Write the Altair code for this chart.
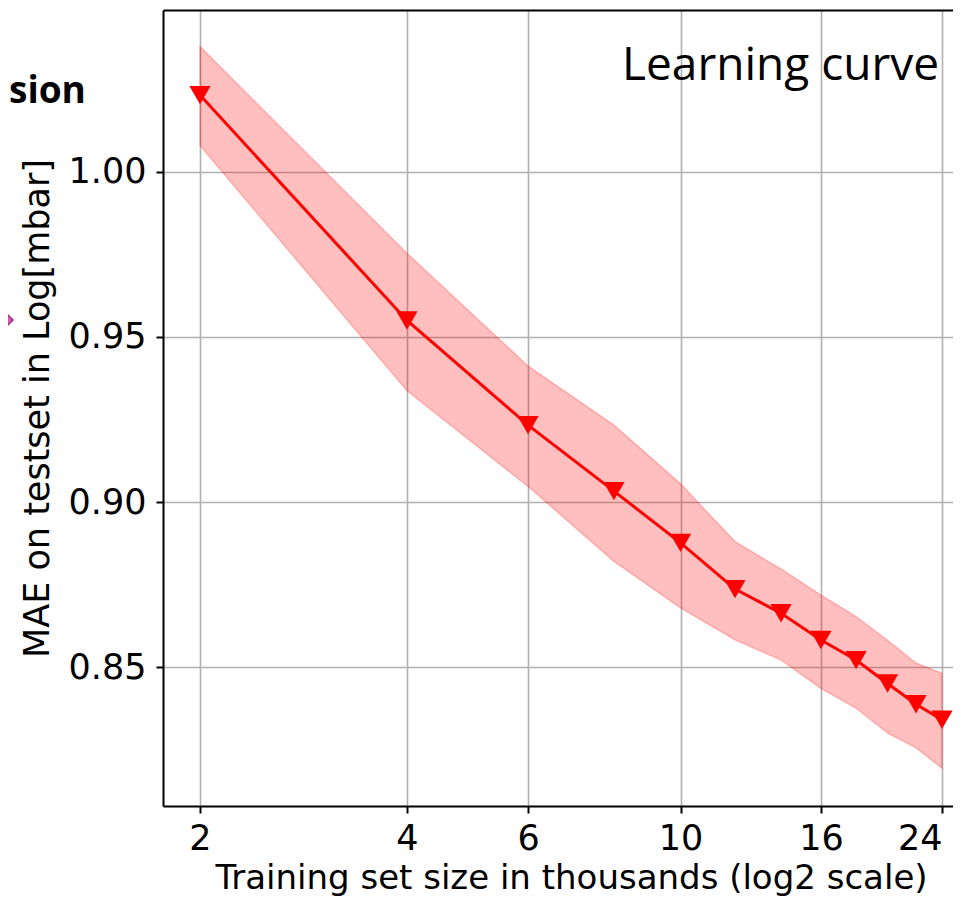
import altair as alt
import pandas as pd

sizes = [2, 4, 6, 8, 10, 12, 14, 16, 18, 20, 22, 24]
mae = [1.0233, 0.9550, 0.9233, 0.9033, 0.8876, 0.8736, 0.8663, 0.8582, 0.8521, 0.8450, 0.8387, 0.8340]
upper = [1.0380, 0.9754, 0.9412, 0.9233, 0.9055, 0.8880, 0.8797, 0.8718, 0.8653, 0.8581, 0.8512, 0.8481]
lower = [1.0080, 0.9337, 0.9047, 0.8820, 0.8679, 0.8582, 0.8521, 0.8435, 0.8375, 0.8300, 0.8255, 0.8193]

x_ticks = [2, 4, 6, 10, 16, 24]
y_ticks = [0.85, 0.90, 0.95, 1.00]
x_domain = [1.767, 24.90]
y_domain = [0.80788, 1.04909]

df = pd.DataFrame({"size": sizes, "mae": mae, "upper": upper, "lower": lower})

AX_FONT = "DejaVu Sans"
W, H = 790, 796

xscale = alt.Scale(type="log", base=2, domain=x_domain, nice=False)
yscale = alt.Scale(domain=y_domain, nice=False, zero=False)

x_axis = alt.Axis(
    values=x_ticks, format="d", title="Training set size in thousands (log2 scale)",
    grid=True, gridColor="#b0b0b0", gridWidth=1.6,
    domainColor="black", domainWidth=2, tickColor="black", tickWidth=2, tickSize=7,
    labelFont=AX_FONT, labelFontSize=35, labelColor="black", labelPadding=8,
    labelFlush=14, labelOverlap=False,
    titleFont=AX_FONT, titleFontSize=34, titleFontWeight="normal", titleColor="black",
    titleX=408, titleY=82, titleBaseline="alphabetic", titleAnchor="middle",
)
y_axis = alt.Axis(
    orient="left",
    values=y_ticks, format=".2f", title="MAE on testset in Log[mbar]",
    grid=True, gridColor="#b0b0b0", gridWidth=1.6,
    domainColor="black", domainWidth=2, tickColor="black", tickWidth=2, tickSize=7,
    labelFont=AX_FONT, labelFontSize=35, labelColor="black", labelPadding=10,
    labelFlush=False, labelOverlap=False,
    titleFont=AX_FONT, titleFontSize=35, titleFontWeight="normal", titleColor="black",
    titleX=-115, titleY=398, titleBaseline="alphabetic", titleAngle=270, titleAnchor="middle",
)
top_axis = alt.Axis(
    orient="top", values=x_ticks, labels=False, ticks=False, grid=False, title=None,
    domainColor="black", domainWidth=2,
)

base = alt.Chart(df)

band = base.mark_area(
    color="#ff0000", fillOpacity=0.25, stroke="#ff0000", strokeOpacity=0.22, strokeWidth=1.5
).encode(
    x=alt.X("size:Q", scale=xscale, axis=x_axis),
    y=alt.Y("upper:Q", scale=yscale, axis=y_axis),
    y2="lower:Q",
)

line = base.mark_line(color="#ff0000", strokeWidth=3).encode(
    x=alt.X("size:Q", scale=xscale, axis=None),
    y=alt.Y("mae:Q", scale=yscale, axis=y_axis),
)

pts = base.mark_point(
    shape="triangle-down", filled=True, color="#ff0000", opacity=1, size=450
).encode(
    x=alt.X("size:Q", scale=xscale, axis=None),
    y=alt.Y("mae:Q", scale=yscale, axis=y_axis),
)

topframe = base.mark_point(opacity=0).encode(
    x=alt.X("size:Q", scale=xscale, axis=top_axis),
    y=alt.Y("mae:Q", scale=yscale, axis=y_axis),
)

label = alt.Chart(pd.DataFrame({"t": ["Learning curve"]})).mark_text(
    font="Open Sans", fontSize=46, color="black", align="right", baseline="alphabetic"
).encode(x=alt.value(776), y=alt.value(70), text="t:N")

sion = alt.Chart(pd.DataFrame({"t": ["sion"]})).mark_text(
    font="Open Sans", fontSize=37, fontWeight="bold", color="black", align="left", baseline="alphabetic"
).encode(x=alt.value(-154), y=alt.value(93), text="t:N")

diamond = alt.Chart(pd.DataFrame({"t": ["d"]})).mark_point(
    shape="diamond", filled=True, color="#d45ab8", stroke="#a0307f", strokeWidth=1.5, opacity=1, size=900
).encode(x=alt.value(-165), y=alt.value(310))

chart = alt.layer(band, line, pts, topframe, label, sion, diamond).resolve_axis(
    x="independent"
).properties(
    width=W, height=H,
    padding={"left": 155, "top": 2, "right": 0, "bottom": 90},
    autosize=alt.AutoSizeParams(type="none"),
).configure_view(stroke=None)

chart.save("out.html", embed_options={"renderer": "svg", "actions": False})
